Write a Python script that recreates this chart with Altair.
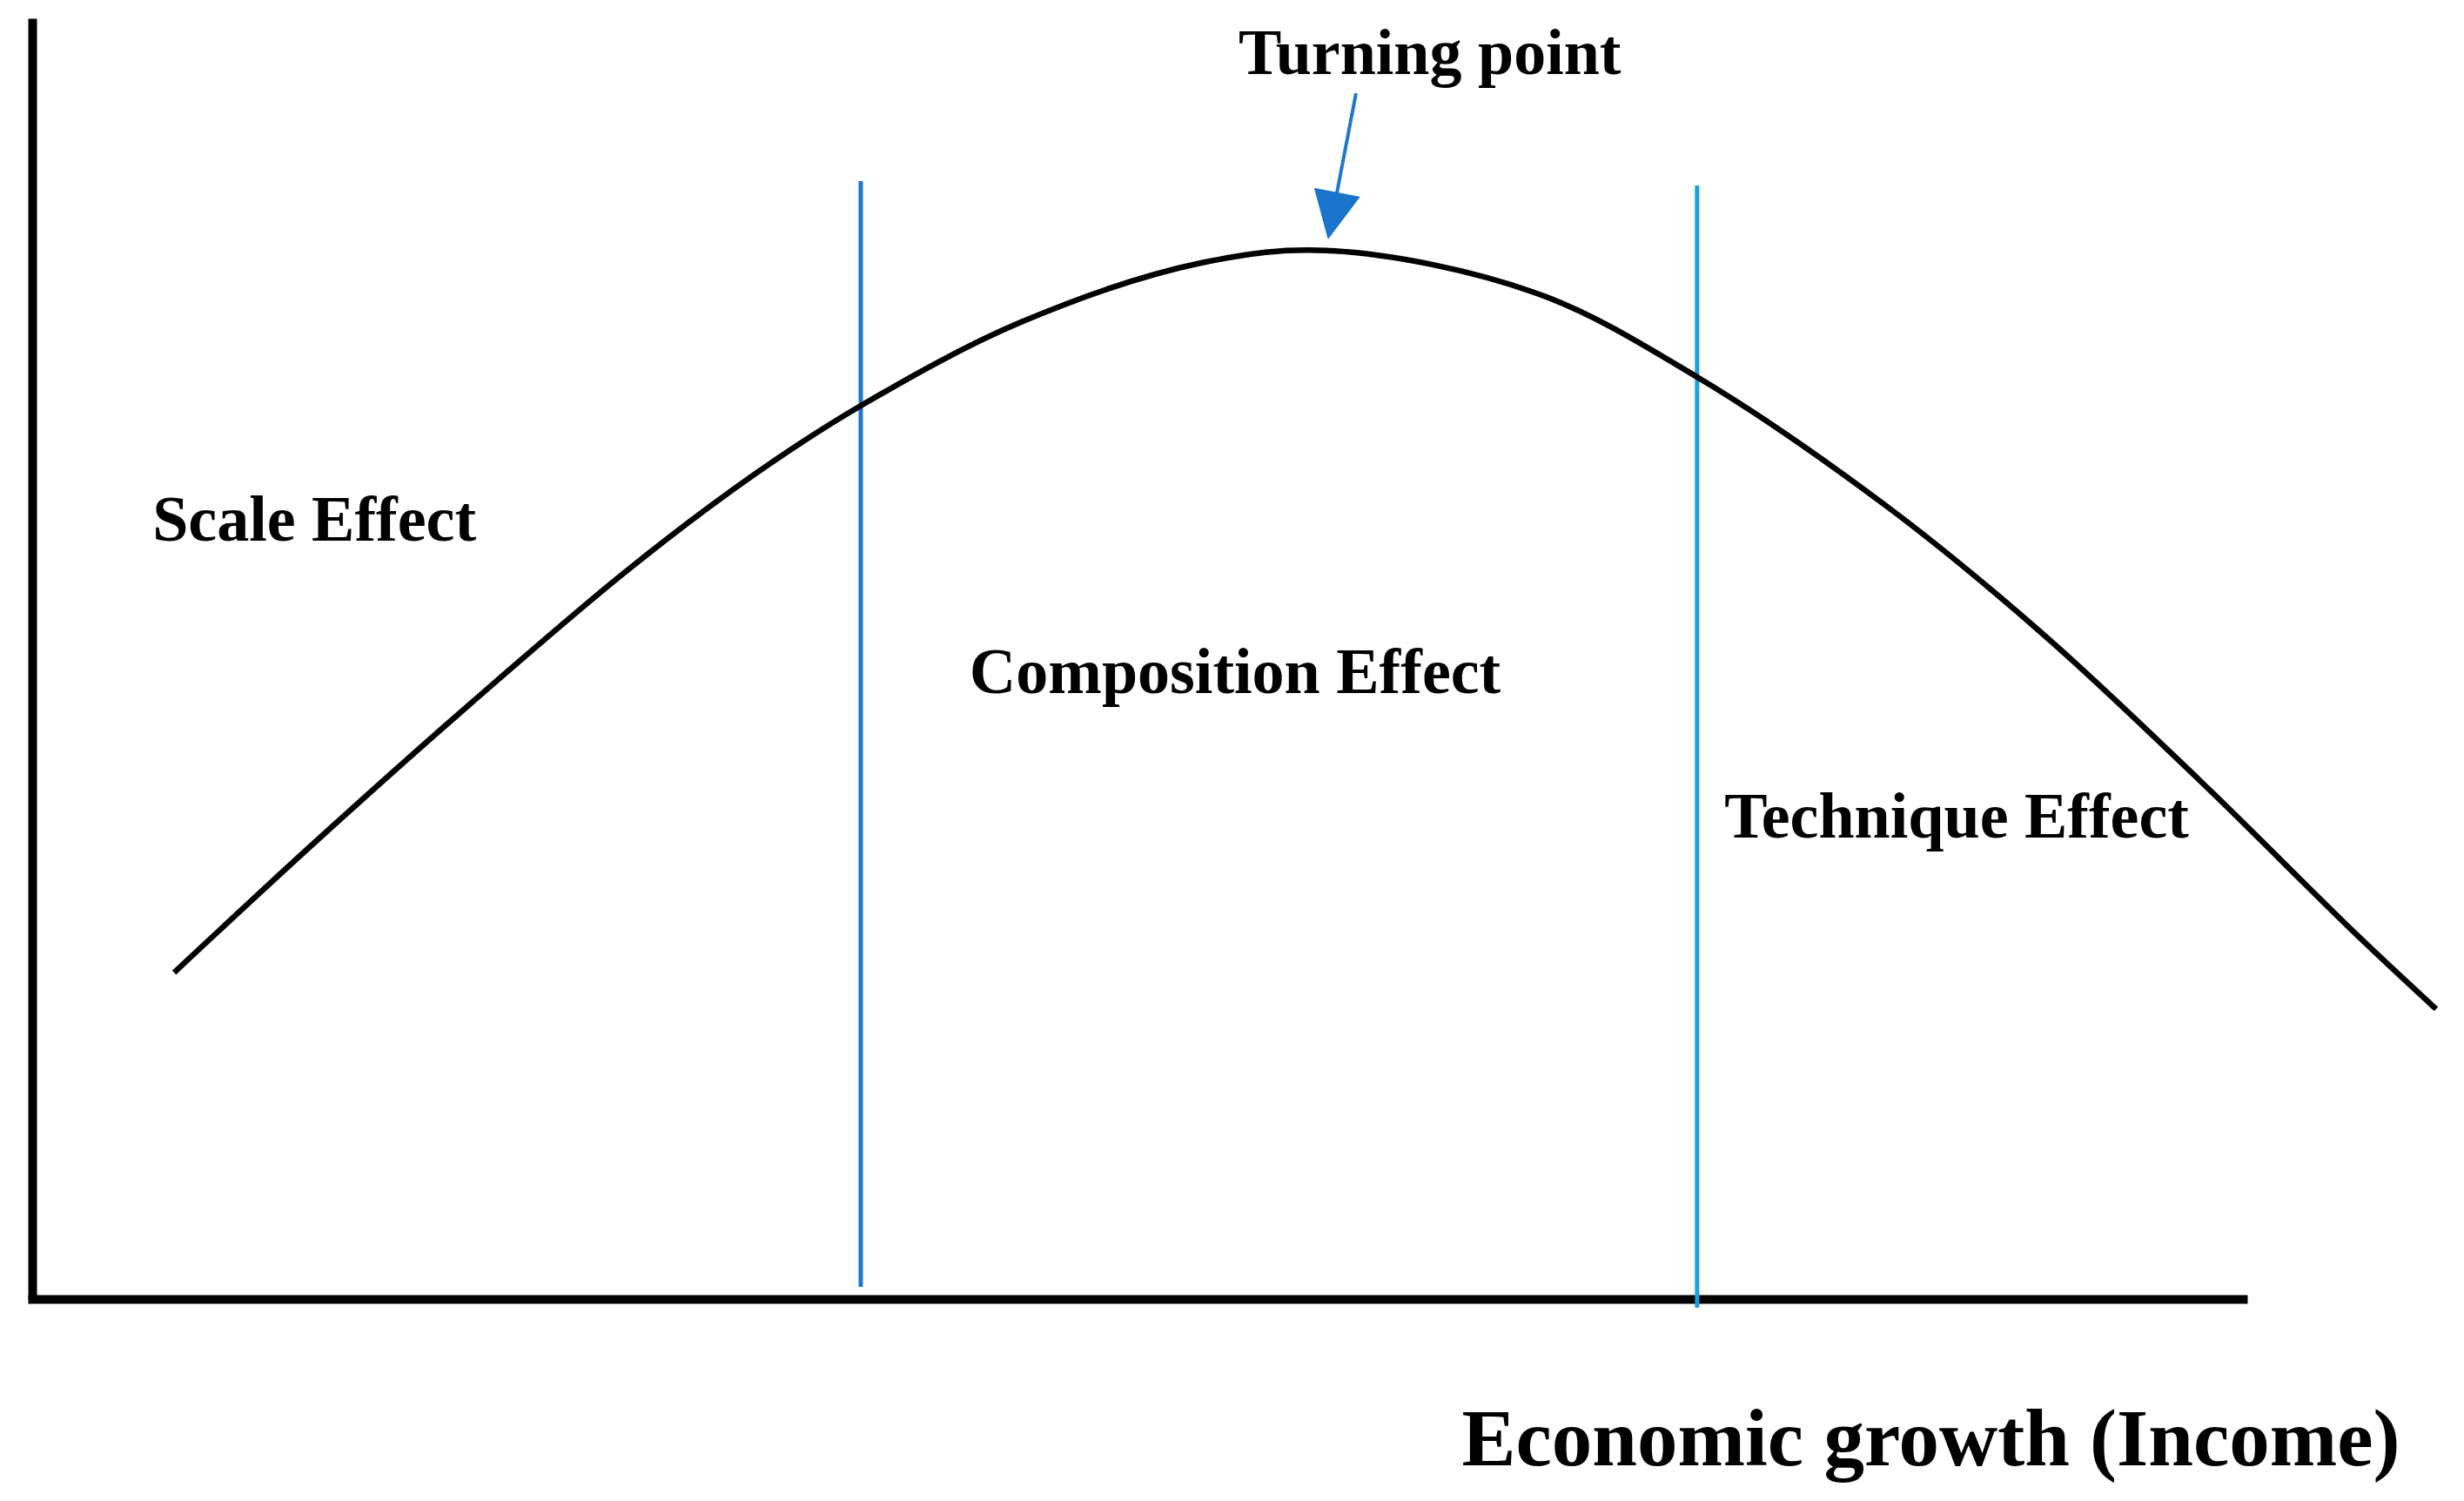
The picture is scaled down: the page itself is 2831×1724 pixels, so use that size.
import altair as alt
import pandas as pd

# Environmental Kuznets curve (income on x, pollution on y, 0-100 units)
income = [6.42, 12.76, 19.88, 26.97, 32.68, 37.48, 44.72, 52.87, 58.78,
          67.95, 75.31, 83.86, 90.94, 98.07, 105.16, 108.74]
pollution = [25.49, 35.62, 46.57, 56.97, 64.40, 69.75, 76.27, 80.90, 81.85,
             78.59, 71.99, 61.93, 51.94, 40.45, 28.42, 22.64]

# Vertical boundaries between effects
boundary_x = [37.48, 75.31]
boundary_top = [87.29, 86.95]
boundary_bottom = [0.95, -0.68]
boundary_colors = ["#1f77cc", "#1e9fdd"]

# Effect labels
labels = ["Turning point", "Scale Effect", "Composition Effect", "Technique Effect"]
label_x = [63.22, 12.76, 54.41, 87.05]
label_y = [95.65, 59.21, 47.31, 36.03]

# Arrow pointing to the turning point
arrow_tail = [59.88, 94.15]
arrow_base = [59.02, 86.40]
arrow_head = [58.82, 84.57]

x_title = "Economic growth (Income)"

FONT = "Liberation Serif"
xs = alt.Scale(domain=[0, 100], nice=False, zero=False)
ys = alt.Scale(domain=[0, 100], nice=False, zero=False)
x_axis = alt.Axis(domain=True, domainColor="black", domainWidth=10, domainCap="square",
                  ticks=False, labels=False, grid=False, title=x_title,
                  titleFont=FONT, titleFontSize=93, titleFontWeight="bold",
                  titleColor="black", titleX=2181, titleY=190, titleAlign="center",
                  titleBaseline="alphabetic", titleAnchor="start")
y_axis = alt.Axis(domain=True, domainColor="black", domainWidth=10,
                  ticks=False, labels=False, grid=False, title="")

def X(field="x"):
    return alt.X(f"{field}:Q", scale=xs, axis=x_axis)

def Y(field="y"):
    return alt.Y(f"{field}:Q", scale=ys, axis=y_axis)

curve_df = pd.DataFrame({"x": income, "y": pollution})
curve = alt.Chart(curve_df).mark_line(color="black", strokeWidth=6.5,
                                      interpolate="catmull-rom").encode(x=X(), y=Y())

bound_df = pd.DataFrame({"x": boundary_x, "y": boundary_bottom,
                         "y2": boundary_top, "c": boundary_colors})
bounds = alt.Chart(bound_df).mark_rule(strokeWidth=5).encode(
    x=X(), y=Y(), y2="y2:Q", color=alt.Color("c:N", scale=None))

text_df = pd.DataFrame({"x": label_x, "y": label_y, "label": labels})
texts = alt.Chart(text_df).mark_text(font=FONT, fontSize=74, fontWeight="bold",
                                     align="center", baseline="alphabetic",
                                     color="black").encode(x=X(), y=Y(), text="label:N")

shaft_df = pd.DataFrame({"x": [arrow_tail[0]], "y": [arrow_tail[1]],
                         "x2": [arrow_base[0]], "y2": [arrow_base[1]]})
shaft = alt.Chart(shaft_df).mark_rule(color="#2277cc", strokeWidth=4).encode(
    x=X(), y=Y(), x2="x2:Q", y2="y2:Q")

head_df = pd.DataFrame({"x": [arrow_head[0]], "y": [arrow_head[1]]})
head = alt.Chart(head_df).mark_point(
    shape="M -0.98 -1 L 0.98 -1 L 0 1 Z", filled=True, fill="#1a73cc",
    opacity=1, strokeWidth=0, size=3025, angle=11).encode(x=X(), y=Y())

chart = alt.layer(bounds, curve, shaft, head, texts).properties(
    width=2540, height=1471,
    autosize=alt.AutoSizeParams(type="none"),
    padding={"left": 29, "top": 13, "right": 240, "bottom": 215},
    background="white",
).configure_view(stroke=None)

chart.save("out.html", embed_options={"renderer": "svg", "actions": False})
